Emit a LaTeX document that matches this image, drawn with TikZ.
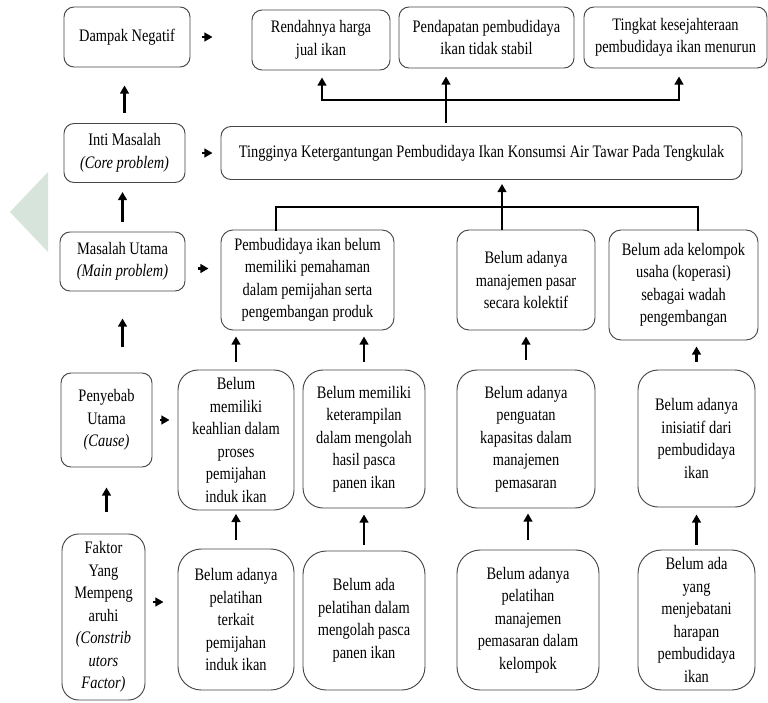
\documentclass[tikz,border=0pt]{standalone}
\usepackage{fontspec}
\setmainfont{Liberation Serif}[FakeStretch=0.82]
\usepackage{tikz}
\usetikzlibrary{positioning, arrows.meta, calc}
\definecolor{boxgray}{RGB}{70,70,70}
\definecolor{markgreen}{RGB}{214,228,220}

\begin{document}
\begin{tikzpicture}[x=0.03cm, y=-0.03cm,
    font=\fontsize{15}{19.2}\selectfont,
    box/.style={draw=boxgray, line width=0.8pt, rounded corners=0.3cm, align=center, inner sep=2pt},
    mbox/.style={box, rounded corners=0.36cm},
    rbox/.style={box, rounded corners=0.6cm},
    sz/.style 2 args={minimum width=#1*0.03cm, minimum height=#2*0.03cm},
    arr/.style={->, >={Stealth[length=7pt, width=7.5pt, inset=0pt]}, line width=2pt},
    bar/.style={line width=2pt, line cap=rect}]
  \fill[white] (0,0) rectangle (768,702);
  \useasboundingbox (0,0) rectangle (768,702);
  \fill[markgreen] (48,172) -- (10,212) -- (48,252) -- cycle;

  % Left column
  \node[box, sz={126}{60}] (dampak) at (127,37) {Dampak Negatif};
  \node[box, sz={121}{59}] (inti) at (124.5,153) {Inti Masalah\\\textit{(Core problem)}};
  \node[box, sz={125}{59}] (masalah) at (122.5,261.5) {Masalah Utama\\\textit{(Main problem)}};
  \node[box, sz={91}{94}] (penyebab) at (106.5,420) {Penyebab\\Utama\\\textit{(Cause)}};
  \node[rbox, rounded corners=0.5cm, sz={83}{166}] (faktor) at (103.5,617) {Faktor\\Yang\\Mempeng\\aruhi\\\textit{(Constrib}\\\textit{utors}\\\textit{Factor)}};

  % Dampak / inti
  \node[box, sz={138}{60}] (rendah) at (321,40) {Rendahnya harga\\jual ikan};
  \node[box, sz={175}{61}] (pendapatan) at (486.5,37.5) {Pendapatan pembudidaya\\ikan tidak stabil};
  \node[box, sz={183}{61}] (tingkat) at (675.5,37.5) {Tingkat kesejahteraan\\pembudidaya ikan menurun};
  \node[box, sz={521}{53}] (tinggi) at (481.5,153) {Tingginya Ketergantungan Pembudidaya Ikan Konsumsi Air Tawar Pada Tengkulak};

  % Masalah utama
  \node[mbox, sz={173}{100}] (paham) at (307.5,280) {Pembudidaya ikan belum\\memiliki pemahaman\\dalam pemijahan serta\\pengembangan produk};
  \node[mbox, sz={138}{100}] (pasar) at (526,280) {Belum adanya\\manajemen pasar\\secara kolektif};
  \node[mbox, sz={149}{110}] (kelompok) at (683.5,285) {Belum ada kelompok\\usaha (koperasi)\\sebagai wadah\\pengembangan};

  % Penyebab
  \node[rbox, sz={116}{140}] (keahlian) at (236,440) {Belum\\memiliki\\keahlian dalam\\proses\\pemijahan\\induk ikan};
  \node[rbox, sz={122}{138}] (terampil) at (364,439) {Belum memiliki\\keterampilan\\dalam mengolah\\hasil pasca\\panen ikan};
  \node[rbox, sz={138}{138}] (penguatan) at (526,439) {Belum adanya\\penguatan\\kapasitas dalam\\manajemen\\pemasaran};
  \node[rbox, sz={117}{137}] (inisiatif) at (696.5,438.5) {Belum adanya\\inisiatif dari\\pembudidaya\\ikan};

  % Faktor
  \node[rbox, rounded corners=0.7cm, sz={116}{141}] (latih1) at (236,619.5) {Belum adanya\\pelatihan\\terkait\\pemijahan\\induk ikan};
  \node[rbox, rounded corners=0.7cm, sz={122}{139}] (latih2) at (364,620.5) {Belum ada\\pelatihan dalam\\mengolah pasca\\panen ikan};
  \node[rbox, rounded corners=0.7cm, sz={142}{140}] (latih3) at (528,620) {Belum adanya\\pelatihan\\manajemen\\pemasaran dalam\\kelompok};
  \node[rbox, rounded corners=0.7cm, sz={117}{140}] (jembatan) at (696.5,620) {Belum ada\\yang\\menjebatani\\harapan\\pembudidaya\\ikan};

  % Row arrows
  \draw[arr, shorten <=0.36cm, shorten >=1.17cm] (dampak.east) -- (dampak.east -| rendah.west);
  \draw[arr, shorten <=0.51cm, shorten >=0.24cm] (inti.east) -- (tinggi.west);
  \draw[arr, shorten <=0.39cm, shorten >=0.36cm] ([yshift=-0.21cm]masalah.east) -- ([yshift=-0.21cm]masalah.east -| paham.west);
  \draw[arr, shorten <=0.24cm, shorten >=0.24cm] (penyebab.east) -- (penyebab.east -| keahlian.west);
  \draw[arr, shorten <=0.24cm, shorten >=0.42cm] ([yshift=0.45cm]faktor.east) -- ([yshift=0.45cm]faktor.east -| latih1.west);

  % Left column arrows
  \draw[arr, shorten <=0.3cm, shorten >=0.54cm] (inti.north) -- (inti.north |- dampak.south);
  \draw[arr, shorten <=0.3cm, shorten >=0.27cm] (masalah.north) -- (masalah.north |- inti.south);
  \draw[arr, shorten <=0.78cm, shorten >=0.81cm] (penyebab.north -| masalah) -- (masalah.south);
  \draw[arr, shorten <=0.66cm, shorten >=0.6cm] (faktor.north -| penyebab) -- (penyebab.south);

  % Top bracket
  \coordinate (topl) at (322,100);
  \coordinate (topbar) at (446,100);
  \coordinate (topr) at (679,100);
  \draw[bar, shorten <=0.12cm] (tinggi.north -| topbar) -- (topbar);
  \draw[bar] (topl) -- (topr);
  \draw[arr, shorten >=0.21cm] (topl) -- (topl |- rendah.south);
  \draw[arr, shorten >=0.24cm] (topbar) -- (topbar |- pendapatan.south);
  \draw[arr, shorten >=0.24cm] (topr) -- (topr |- tingkat.south);

  % Bottom bracket
  \coordinate (botl) at (276,207);
  \coordinate (botm) at (502,207);
  \coordinate (botr) at (698,207);
  \draw[bar] (botl |- paham.north) -- (botl) -- (botr) -- (botr |- kelompok.north);
  \draw[arr, shorten >=0.12cm] (botm |- pasar.north) -- (botm |- tinggi.south);

  % Penyebab -> masalah
  \draw[arr, shorten <=0.24cm, shorten >=0.18cm] (keahlian.north) -- (keahlian.north |- paham.south);
  \draw[arr, shorten <=0.24cm, shorten >=0.18cm] (terampil.north) -- (terampil.north |- paham.south);
  \draw[arr, shorten <=0.3cm, shorten >=0.18cm] (penguatan.north) -- (penguatan.north |- pasar.south);
  \draw[arr, shorten <=0.24cm, shorten >=0.18cm] (inisiatif.north) -- (inisiatif.north |- kelompok.south);

  % Faktor -> penyebab
  \draw[arr, shorten <=0.27cm, shorten >=0.1cm] (latih1) -- (keahlian);
  \draw[arr, shorten <=0.18cm, shorten >=0.18cm] (latih2) -- (terampil);
  \draw[arr, shorten <=0.3cm, shorten >=0.15cm] (latih3.north) -- (latih3.north |- penguatan.south);
  \draw[arr, shorten <=0.15cm, shorten >=0.21cm] (jembatan) -- (inisiatif);
\end{tikzpicture}
\end{document}
